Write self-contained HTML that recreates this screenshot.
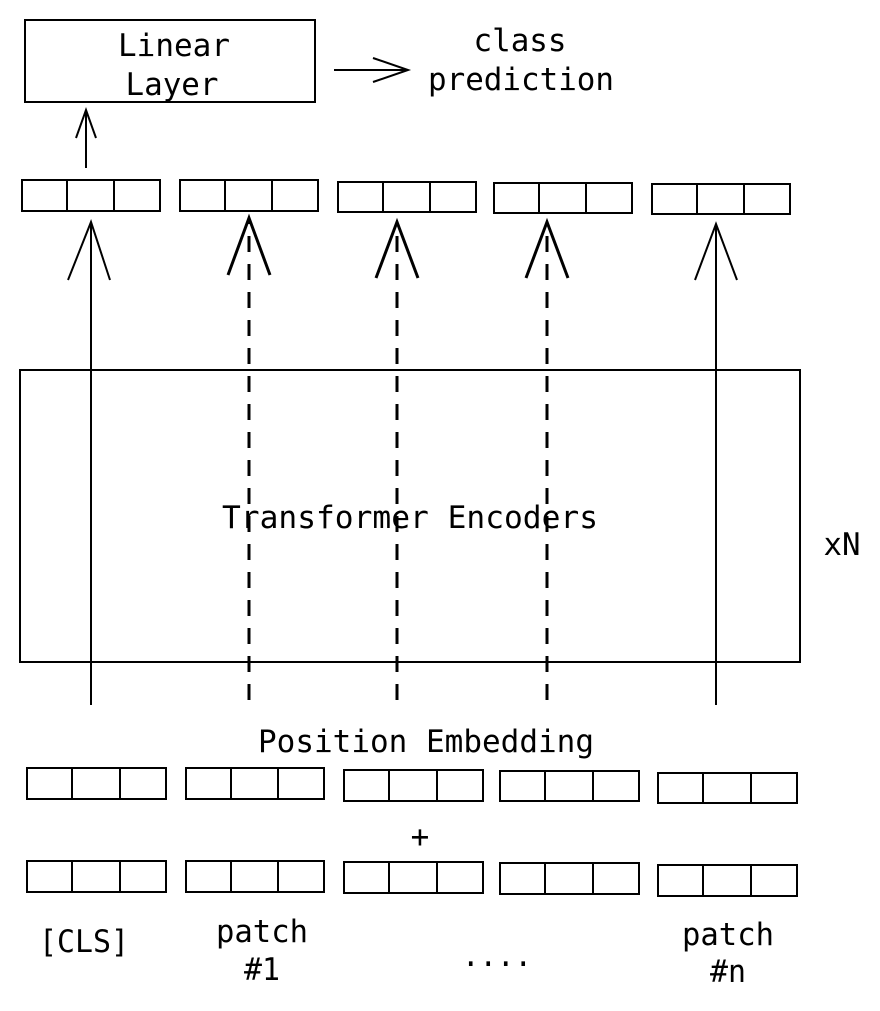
<!DOCTYPE html>
<html><head><style>body{margin:0;background:#fff}svg{display:block}text{font-family:"DejaVu Sans Mono","Liberation Mono",monospace;font-size:31px;fill:#000;text-anchor:middle}</style></head>
<body>
<svg width="880" height="1011" viewBox="0 0 880 1011" xmlns="http://www.w3.org/2000/svg">
<g fill="none" stroke="#000" stroke-width="2">
<rect x="25" y="20" width="290" height="82"/>
<path d="M334 70H408M373 58L408 70L373 82"/>
<path d="M86 168V110M76 138L86 110L96 138"/>
<rect x="20" y="370" width="780" height="292"/>
<path d="M91 705V222M68 280L91 222L110 280"/>
<path d="M716 705V224M695 280L716 224L737 280"/>
<g stroke-width="3">
<path d="M249 700V222" stroke-dasharray="16,12"/>
<path d="M228 275L249 218L270 275"/>
<path d="M397 700V224" stroke-dasharray="16,12"/>
<path d="M376 278L397 222L418 278"/>
<path d="M547 700V224" stroke-dasharray="16,12"/>
<path d="M526 278L547 222L568 278"/>
</g>
</g>
<g fill="none" stroke="#000" stroke-width="2">
<rect x="22" y="180" width="138" height="31"/><path d="M67 180V211M114 180V211"/>
<rect x="180" y="180" width="138" height="31"/><path d="M225 180V211M272 180V211"/>
<rect x="338" y="182" width="138" height="30"/><path d="M383 182V212M430 182V212"/>
<rect x="494" y="183" width="138" height="30"/><path d="M539 183V213M586 183V213"/>
<rect x="652" y="184" width="138" height="30"/><path d="M697 184V214M744 184V214"/>
<rect x="27" y="768" width="139" height="31"/><path d="M72 768V799M120 768V799"/>
<rect x="186" y="768" width="138" height="31"/><path d="M231 768V799M278 768V799"/>
<rect x="344" y="770" width="139" height="31"/><path d="M389 770V801M437 770V801"/>
<rect x="500" y="771" width="139" height="30"/><path d="M545 771V801M593 771V801"/>
<rect x="658" y="773" width="139" height="30"/><path d="M703 773V803M751 773V803"/>
<rect x="27" y="861" width="139" height="31"/><path d="M72 861V892M120 861V892"/>
<rect x="186" y="861" width="138" height="31"/><path d="M231 861V892M278 861V892"/>
<rect x="344" y="862" width="139" height="31"/><path d="M389 862V893M437 862V893"/>
<rect x="500" y="863" width="139" height="31"/><path d="M545 863V894M593 863V894"/>
<rect x="658" y="865" width="139" height="31"/><path d="M703 865V896M751 865V896"/>
</g>
<text x="174" y="56" textLength="112" lengthAdjust="spacingAndGlyphs">Linear</text>
<text x="172" y="95" textLength="93" lengthAdjust="spacingAndGlyphs">Layer</text>
<text x="520" y="51" textLength="93" lengthAdjust="spacingAndGlyphs">class</text>
<text x="521" y="90" textLength="186" lengthAdjust="spacingAndGlyphs">prediction</text>
<text x="410" y="528" textLength="376" lengthAdjust="spacingAndGlyphs">Transformer Encoders</text>
<text x="842" y="555" textLength="37" lengthAdjust="spacingAndGlyphs">xN</text>
<text x="426" y="752" textLength="336" lengthAdjust="spacingAndGlyphs">Position Embedding</text>
<text x="420" y="847">+</text>
<text x="84" y="952" textLength="90" lengthAdjust="spacingAndGlyphs">[CLS]</text>
<text x="262" y="942" textLength="92" lengthAdjust="spacingAndGlyphs">patch</text>
<text x="262" y="980" textLength="36" lengthAdjust="spacingAndGlyphs">#1</text>
<text x="497" y="966" textLength="70" lengthAdjust="spacingAndGlyphs">....</text>
<text x="728" y="945" textLength="92" lengthAdjust="spacingAndGlyphs">patch</text>
<text x="728" y="982" textLength="36" lengthAdjust="spacingAndGlyphs">#n</text>
</svg>
</body></html>
